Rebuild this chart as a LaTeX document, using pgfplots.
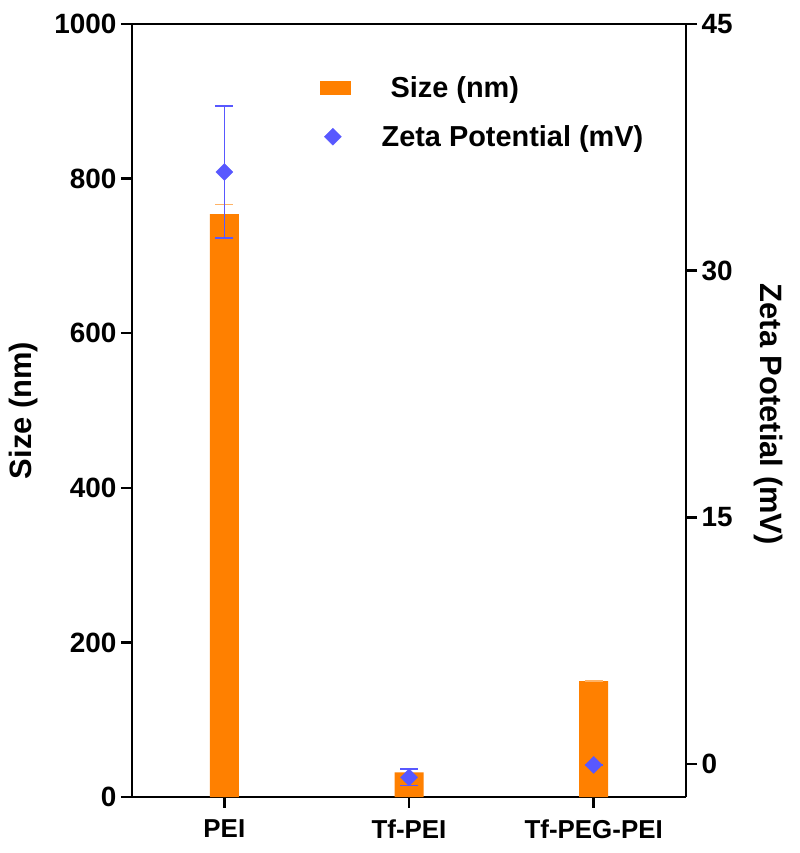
\documentclass[border=0pt]{standalone}
\usepackage{pgfplots}
\pgfplotsset{compat=1.18}
\usepackage{fontspec}
\setmainfont{Liberation Sans}
\definecolor{barorange}{RGB}{255,128,0}
\definecolor{zetablue}{RGB}{88,88,255}
\begin{document}
\begin{tikzpicture}
\pgfplotsset{
  common/.style={
    scale only axis, width=554bp, height=773bp,
    xmin=-0.5, xmax=2.5,
    axis line style={line width=2.4bp},
    tick style={line width=2.4bp, black},
    major tick length=11bp,
    tick align=outside,
    /pgf/number format/assume math mode=true,
    /pgf/number format/1000 sep={},
    tick label style={font=\fontsize{28}{30}\selectfont\bfseries},
    label style={font=\fontsize{31}{34}\selectfont\bfseries},
  }
}
\begin{axis}[common,
  axis y line*=left, axis x line*=box,
  ymin=0, ymax=1000, ytick={0,200,400,600,800,1000},
  xtick={0,1,2}, xticklabels={PEI,Tf-PEI,Tf-PEG-PEI},
  xtick pos=bottom,
  xticklabel style={yshift=-8bp, font=\fontsize{26}{28}\selectfont\bfseries},
  yticklabel style={xshift=-1bp},
  ylabel={Size (nm)},
  ylabel style={at={(axis description cs:-0.195,0.5)}, anchor=center},
  bar width=29bp,
]
\addplot[ybar, fill=barorange, draw=none,
  error bars/.cd, y dir=plus, y explicit,
  error bar style={line width=1.2bp, color=barorange!60},
  error mark options={rotate=90, mark size=9bp, line width=1.2bp, barorange!60}]
  coordinates {(0,754) +- (0,12) (1,32) +- (0,4) (2,150) +- (0,0)};
\end{axis}
\begin{axis}[common,
  axis y line*=right, axis x line=none,
  ymin=-2, ymax=45, ytick={0,15,30,45},
  ylabel={Zeta Potetial (mV)},
  ylabel style={at={(axis description cs:1.148,0.495)}, anchor=center, rotate=180},
  yticklabel style={xshift=1bp},
  legend style={at={(rel axis cs:0.334,0.938)}, anchor=north west, draw=none, fill=none,
    font=\fontsize{29}{32}\selectfont\bfseries, row sep=23bp,
    legend cell align=left,
    nodes={inner xsep=18bp},
    /tikz/every odd column/.append style={column sep=13bp}},
]
\addlegendimage{legend image code/.code={\fill[barorange] (-4bp,-6.5bp) rectangle (26bp,6.5bp);}}
\addlegendentry{\hspace{9bp}Size (nm)}
\addplot[only marks, mark=square*, mark size=6bp, color=zetablue,
  mark options={rotate=45},
  error bars/.cd, y dir=both, y explicit,
  error bar style={line width=1.6bp, color=zetablue},
  error mark options={rotate=90, mark size=9bp, line width=1.6bp, zetablue}]
  coordinates {(0,36) +- (0,4) (1,-0.8) +- (0,0.5) (2,-0.05) +- (0,0)};
\addlegendentry{Zeta Potential (mV)}
\end{axis}
\path[use as bounding box] (-132bp,-56bp) rectangle (668bp,797bp);
\end{tikzpicture}
\end{document}
